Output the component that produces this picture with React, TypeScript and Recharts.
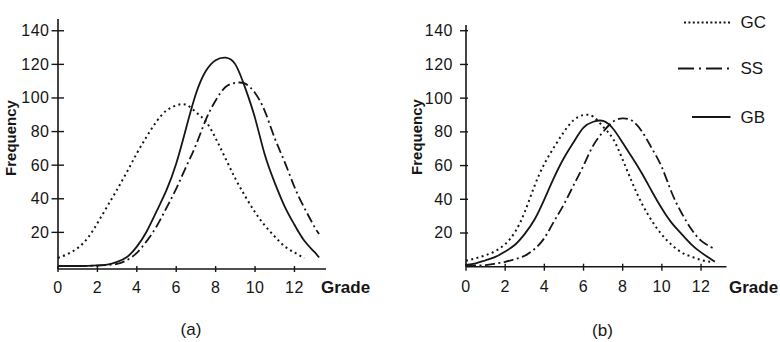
import React from 'react';
import { LineChart, Line, XAxis, YAxis } from 'recharts';

// Grade grids for each panel
const gradesA = [0, 0.5, 1, 1.5, 2, 2.5, 3, 3.5, 4, 4.5, 5, 5.5, 6, 6.5, 7, 7.5, 8, 8.5, 9, 9.5, 10, 10.5, 11, 11.5, 12, 12.5, 13, 13.25];
const gradesB = [0, 0.5, 1, 1.5, 2, 2.5, 3, 3.5, 4, 4.5, 5, 5.5, 6, 6.5, 7, 7.5, 8, 8.5, 9, 9.5, 10, 10.5, 11, 11.5, 12, 12.5, 12.7];

// Panel (a) frequencies
const gcA = [4.8, 7.2, 10.7, 16.5, 25.5, 35.5, 45.5, 56, 67, 77, 86, 92.5, 95.5, 96, 91.5, 86, 76, 64, 52, 41.5, 32, 24, 17.5, 11.7, 8, 4.6, null, null];
const ssA = [0, 0, 0, 0.1, 0.2, 0.6, 1.3, 3.5, 7.8, 14.8, 23.5, 34.5, 46, 59, 72, 87, 98.5, 106.5, 109, 108.5, 103, 92, 76, 62, 47, 34.6, 23.6, 19];
const gbA = [0, 0, 0, 0.1, 0.3, 0.8, 2.4, 5.3, 11.5, 20.5, 32.5, 45, 61, 82, 102.5, 116, 122.5, 124, 120, 106, 88, 66, 49.5, 35.5, 24.5, 15, 8.5, 5];

// Panel (b) frequencies
const gcB = [3.5, 5, 6.8, 9.3, 13.4, 20.5, 32.5, 48, 61, 71, 80, 87, 90, 89, 83, 76, 63.5, 49.5, 37, 27, 19, 13, 8.5, 6, 4, 2.9, null];
const ssB = [0.5, 0.7, 0.9, 1.8, 2.9, 4.5, 6.5, 10.5, 17, 27, 37, 48.5, 60, 72, 80, 86, 88, 86.5, 80, 70, 59, 44, 32, 22.3, 15.5, 11.7, 10.5];
const gbB = [1, 2, 3.8, 5.8, 9, 13, 19.5, 28, 40, 53, 64.5, 74, 82.5, 86, 86.5, 82, 73.5, 64.5, 55, 44.5, 34.5, 26, 19.5, 13.3, 8.5, 4.5, 3];

const xTicks = [0, 2, 4, 6, 8, 10, 12];
const yTicks = [20, 40, 60, 80, 100, 120, 140];
const seriesNames = ['GC', 'SS', 'GB'];

const FONT = '"Liberation Sans", Arial, Helvetica, sans-serif';
const INK = '#161616';

const dashGC = '2 3.4';
const dashSS = '10 3.5 2 3.5';

function buildRows(grades: number[], gc: (number | null)[], ss: (number | null)[], gb: (number | null)[]) {
  return grades.map((g, i) => ({ grade: g, GC: gc[i], SS: ss[i], GB: gb[i] }));
}

function makeYTick(left: number, right: number, gap: number) {
  return (props: any) => {
    const { x, y, payload } = props;
    return (
      <g>
        <line x1={x - left} x2={x + right} y1={y} y2={y} stroke={INK} strokeWidth={1.4} />
        <text x={x - gap} y={y} textAnchor="end" dominantBaseline="central" fontSize={16} letterSpacing={0.5} fill={INK} fontFamily={FONT}>
          {payload.value}
        </text>
      </g>
    );
  };
}

function makeXTick(up: number, down: number, base: number) {
  return (props: any) => {
    const { x, y, payload } = props;
    return (
      <g>
        <line x1={x} x2={x} y1={y - up} y2={y + down} stroke={INK} strokeWidth={1.4} />
        <text x={x} y={y + base} textAnchor="middle" fontSize={16} letterSpacing={0.5} fill={INK} fontFamily={FONT}>
          {payload.value}
        </text>
      </g>
    );
  };
}

type PanelProps = {
  rows: any[];
  left: number;
  top: number;
  margin: { top: number; right: number; left: number; bottom: number };
  yWidth: number;
  xHeight: number;
  xMax: number;
  yDomain: [number, number];
  yTick: (p: any) => React.ReactElement;
  xTick: (p: any) => React.ReactElement;
};

function Panel({ rows, left, top, margin, yWidth, xHeight, xMax, yDomain, yTick, xTick }: PanelProps) {
  return (
    <div style={{ position: 'absolute', left, top }}>
      <LineChart width={390} height={342} data={rows} margin={margin}>
        <XAxis
          dataKey="grade"
          type="number"
          domain={[0, xMax]}
          ticks={xTicks}
          height={xHeight}
          tickSize={0}
          tickMargin={0}
          tickLine={false}
          tick={xTick}
          axisLine={{ stroke: INK, strokeWidth: 1.6 }}
          interval={0}
        />
        <YAxis
          type="number"
          domain={yDomain}
          ticks={yTicks}
          width={yWidth}
          tickSize={0}
          tickMargin={0}
          tickLine={false}
          tick={yTick}
          axisLine={{ stroke: INK, strokeWidth: 1.6 }}
          interval={0}
        />
        <Line dataKey="GC" type="natural" stroke={INK} strokeWidth={2} strokeDasharray={dashGC} dot={false} activeDot={false} isAnimationActive={false} />
        <Line dataKey="SS" type="natural" stroke={INK} strokeWidth={1.8} strokeDasharray={dashSS} dot={false} activeDot={false} isAnimationActive={false} />
        <Line dataKey="GB" type="natural" stroke={INK} strokeWidth={1.8} dot={false} activeDot={false} isAnimationActive={false} />
      </LineChart>
    </div>
  );
}

export default function App() {
  const rowsA = buildRows(gradesA, gcA, ssA, gbA);
  const rowsB = buildRows(gradesB, gcB, ssB, gbB);
  const legendRows = [
    { name: seriesNames[0], y: 22.5, x1: 684, dash: '2 2.4' },
    { name: seriesNames[1], y: 68.5, x1: 678, dash: '16 5 2 5' },
    { name: seriesNames[2], y: 117, x1: 692, dash: undefined },
  ];
  return (
    <div style={{ position: 'absolute', left: 0, top: 0, width: 780, height: 342, background: '#fff', overflow: 'hidden' }}>
      <Panel
        rows={rowsA}
        left={0}
        top={0}
        margin={{ top: 19, right: 64, left: 0, bottom: 0 }}
        yWidth={58}
        xHeight={73}
        xMax={13.6}
        yDomain={[-1.8, 147]}
        yTick={makeYTick(6.5, 6, 8.5)}
        xTick={makeXTick(3, 3, 23.5)}
      />
      <Panel
        rows={rowsB}
        left={390}
        top={0}
        margin={{ top: 25, right: 53.5, left: 0, bottom: 0 }}
        yWidth={76}
        xHeight={75.3}
        xMax={13.3}
        yDomain={[0, 143.4]}
        yTick={makeYTick(6, 2, 13)}
        xTick={makeXTick(3, 4, 25.5)}
      />
      <svg width={780} height={342} style={{ position: 'absolute', left: 0, top: 0, pointerEvents: 'none' }} fontFamily={FONT}>
        <text x={10} y={138} transform="rotate(-90 10 138)" textAnchor="middle" dominantBaseline="central" fontSize={15} fontWeight="bold" fill={INK}>
          Frequency
        </text>
        <text x={416.7} y={137} transform="rotate(-90 416.7 137)" textAnchor="middle" dominantBaseline="central" fontSize={15} fontWeight="bold" fill={INK}>
          Frequency
        </text>
        <text x={321} y={293} fontSize={17} fontWeight="bold" fill={INK}>Grade</text>
        <text x={729} y={293} fontSize={17} fontWeight="bold" fill={INK}>Grade</text>
        <text x={191} y={329} textAnchor="middle" dominantBaseline="central" fontSize={17} fill={INK}>(a)</text>
        <text x={602.5} y={330} textAnchor="middle" dominantBaseline="central" fontSize={17} fill={INK}>(b)</text>
        {legendRows.map((r) => (
          <g key={r.name}>
            <line x1={r.x1} x2={730.5} y1={r.y} y2={r.y} stroke={INK} strokeWidth={2} strokeDasharray={r.dash} />
            <text x={740.5} y={r.y} dominantBaseline="central" fontSize={17} fill={INK}>{r.name}</text>
          </g>
        ))}
      </svg>
    </div>
  );
}
